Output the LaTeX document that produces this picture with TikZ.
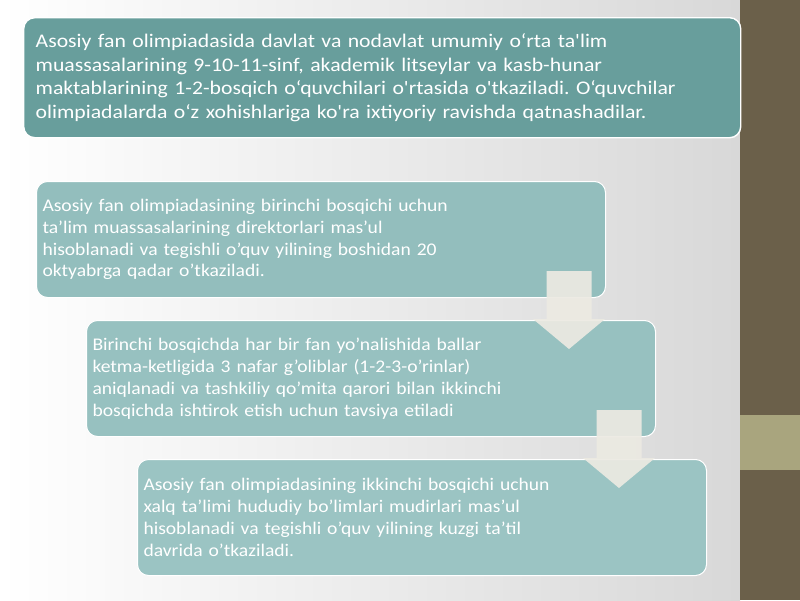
\documentclass[tikz,border=0pt]{standalone}
\usepackage{fontspec}
\setmainfont{Carlito}[FakeStretch=1.1]
\newfontfamily\topfont{Carlito}[FakeStretch=1.125]
\frenchspacing
\definecolor{topc}{RGB}{104,158,156}
\definecolor{boxb}{RGB}{147,190,189}
\definecolor{boxc}{RGB}{151,193,192}
\definecolor{boxd}{RGB}{155,196,195}
\definecolor{strip}{RGB}{107,96,74}
\definecolor{band}{RGB}{169,165,126}
\definecolor{arrowc}{RGB}{236,234,226}
\definecolor{bggray}{RGB}{216,216,216}
\begin{document}
\begin{tikzpicture}[x=1pt,y=-1pt,
  box/.style={draw=white, line width=1pt, rounded corners=11pt, anchor=north west,
    align=left, text=white, inner ysep=0pt},
  topbox/.style={box, fill=topc, line width=1.4pt, text width=693pt, inner xsep=12pt,
    minimum height=120pt, font=\topfont\fontsize{19.3}{23.7}\selectfont},
  lowbox/.style={box, text width=557pt, inner xsep=6pt, minimum height=116pt,
    font=\fontsize{17.8}{21.8}\selectfont},
  blockarrow/.style={fill=arrowc, fill opacity=0.92, draw=none}]
\useasboundingbox (0,0) rectangle (800,600);
% background
\shade[left color=white, middle color=white!93!bggray, right color=bggray] (0,0) rectangle (740,600);
\fill[strip] (740,0) rectangle (800,600);
\fill[band] (740,415) rectangle (800,470);
% boxes
\node[topbox] (b1) at (23,17) {Asosiy fan olimpiadasida davlat va nodavlat umumiy o‘rta ta'lim\\
muassasalarining 9-10-11-sinf, akademik litseylar va kasb-hunar\\
maktablarining 1-2-bosqich o‘quvchilari o'rtasida o'tkaziladi. O‘quvchilar\\
olimpiadalarda o‘z xohishlariga ko'ra ixtiyoriy ravishda qatnashadilar.};
\node[lowbox, fill=boxb] (b2) at (36,181) {Asosiy fan olimpiadasining birinchi bosqichi uchun\\
ta'lim muassasalarining direktorlari mas'ul\\
hisoblanadi va tegishli o'quv yilining boshidan 20\\
oktyabrga qadar o'tkaziladi.};
\node[lowbox, fill=boxc] (b3) at (86,320) {Birinchi bosqichda har bir fan yo'nalishida ballar\\
ketma-ketligida 3 nafar g'oliblar (1-2-3-o'rinlar)\\
aniqlanadi va tashkiliy qo'mita qarori bilan ikkinchi\\
bosqichda ishtirok etish uchun tavsiya etiladi};
\node[lowbox, fill=boxd] (b4) at (137,459) {Asosiy fan olimpiadasining ikkinchi bosqichi uchun\\
xalq ta'limi hududiy bo'limlari mudirlari mas'ul\\
hisoblanadi va tegishli o'quv yilining kuzgi ta'til\\
davrida o'tkaziladi.};
% block arrows
\coordinate (a1) at ([xshift=-37pt]b2.south east);
\coordinate (a2) at ([xshift=-37pt]b3.south east);
\foreach \c in {a1,a2}{
  \fill[blockarrow] ([shift={(-22.5,-27)}]\c) -- ([shift={(22.5,-27)}]\c) -- ([shift={(22.5,21)}]\c)
    -- ([shift={(36,21)}]\c) -- ([shift={(0,51)}]\c) -- ([shift={(-36,21)}]\c)
    -- ([shift={(-22.5,21)}]\c) -- cycle;
}
\end{tikzpicture}
\end{document}
